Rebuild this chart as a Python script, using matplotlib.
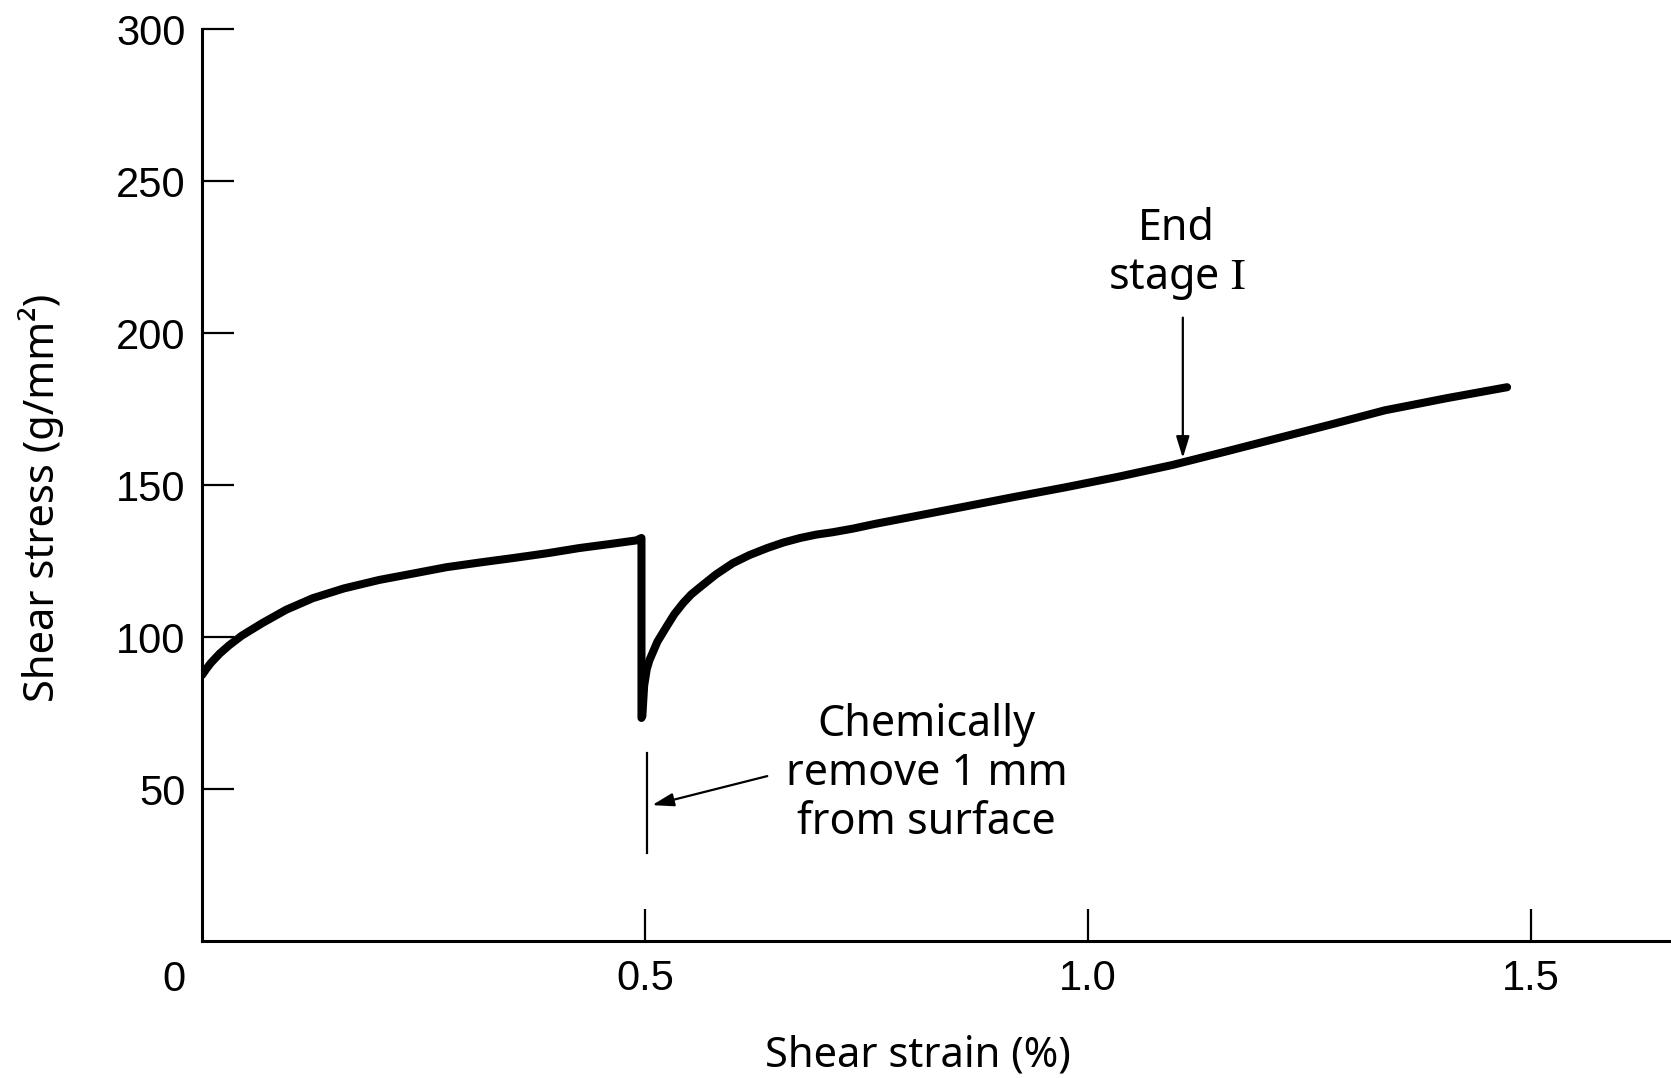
import matplotlib
matplotlib.use("Agg")
import matplotlib.pyplot as plt

plt.rcParams['mathtext.fontset'] = 'stix'

# Curve before surface removal
strain_1 = [0.000, 0.005, 0.010, 0.020, 0.031, 0.045, 0.068, 0.095, 0.125, 0.160,
            0.200, 0.240, 0.276, 0.315, 0.351, 0.390, 0.426, 0.460, 0.490, 0.496, 0.496]
stress_1 = [87.5, 89.6, 91.5, 94.6, 97.4, 100.5, 104.6, 109.0, 112.8, 116.0,
            118.8, 121.0, 123.0, 124.6, 126.0, 127.6, 129.3, 130.6, 131.8, 132.6, 73.4]
# Curve after surface removal
strain_2 = [0.497, 0.499, 0.502, 0.505, 0.514, 0.524, 0.533, 0.543, 0.552, 0.562,
            0.580, 0.599, 0.618, 0.638, 0.656, 0.675, 0.693, 0.712, 0.735, 0.759,
            0.800, 0.855, 0.915, 0.975, 1.035, 1.095, 1.155, 1.215, 1.275, 1.335,
            1.405, 1.473]
stress_2 = [74.0, 84.0, 89.5, 92.4, 98.5, 103.3, 107.5, 111.2, 114.0, 116.4,
            120.6, 124.3, 127.0, 129.3, 131.1, 132.6, 133.7, 134.5, 135.7, 137.2,
            139.5, 142.6, 146.0, 149.3, 152.8, 156.6, 161.0, 165.5, 170.0, 174.6,
            178.6, 182.2]

xticks = [0.5, 1.0, 1.5]
xtick_labels = ['0.5', '1.0', '1.5']
yticks = [50, 100, 150, 200, 250, 300]

fig = plt.figure(figsize=(16.71, 10.78), dpi=100)
ax = fig.add_axes([0.1209, 0.127, 0.8791, 0.846])
ax.set_xlim(0, 1.658)
ax.set_ylim(0, 300)

line_kw = dict(color='black', lw=5.8, solid_capstyle='round', solid_joinstyle='round')
ax.plot(strain_1, stress_1, **line_kw)
ax.plot(strain_2, stress_2, **line_kw)

for s in ['top', 'right']:
    ax.spines[s].set_visible(False)
for s in ['left', 'bottom']:
    ax.spines[s].set_linewidth(2.2)

tick_font = dict(family='Liberation Sans', size=30)
ax.set_xticks(xticks)
ax.set_xticklabels(xtick_labels, **tick_font)
ax.set_yticks(yticks)
ax.set_yticklabels([str(v) for v in yticks], **tick_font)
ax.tick_params(axis='both', direction='in', length=23, width=1.6)
ax.tick_params(axis='x', pad=13)
ax.tick_params(axis='y', pad=12)
ax.text(-0.019, -0.0205, '0', transform=ax.transAxes, ha='center', va='top',
        clip_on=False, **tick_font)

lab_font = dict(family='Noto Sans', size=30)
ax.set_ylabel('Shear stress (g/mm²)', **lab_font)
ax.yaxis.set_label_coords(-0.094, 0.486)
ax.set_xlabel('Shear strain (%)', va='baseline', **lab_font)
ax.xaxis.set_label_coords(0.4875, -0.138)

ann_font = dict(family='Noto Sans', size=31)
# marker at 0.5 strain
ax.plot([0.502, 0.502], [29, 62], color='black', lw=1.6)
ax.annotate('', xy=(0.505, 44.5), xytext=(0.641, 54.5),
            arrowprops=dict(arrowstyle='-|>,head_length=1.3,head_width=0.4', color='black', lw=1.6))
ax.text(0.818, 55.0, 'Chemically\nremove 1 mm\nfrom surface', ha='center', va='center',
        linespacing=1.15, **ann_font)

# End stage I
ax.annotate('', xy=(1.107, 158.0), xytext=(1.107, 206.0),
            arrowprops=dict(arrowstyle='-|>,head_length=1.3,head_width=0.4', color='black', lw=1.6))
ax.text(1.100, 226.0, 'End\nstage $\\mathrm{I}$', ha='center', va='center', linespacing=1.15, **ann_font)

fig.savefig('out.png', dpi=100)
